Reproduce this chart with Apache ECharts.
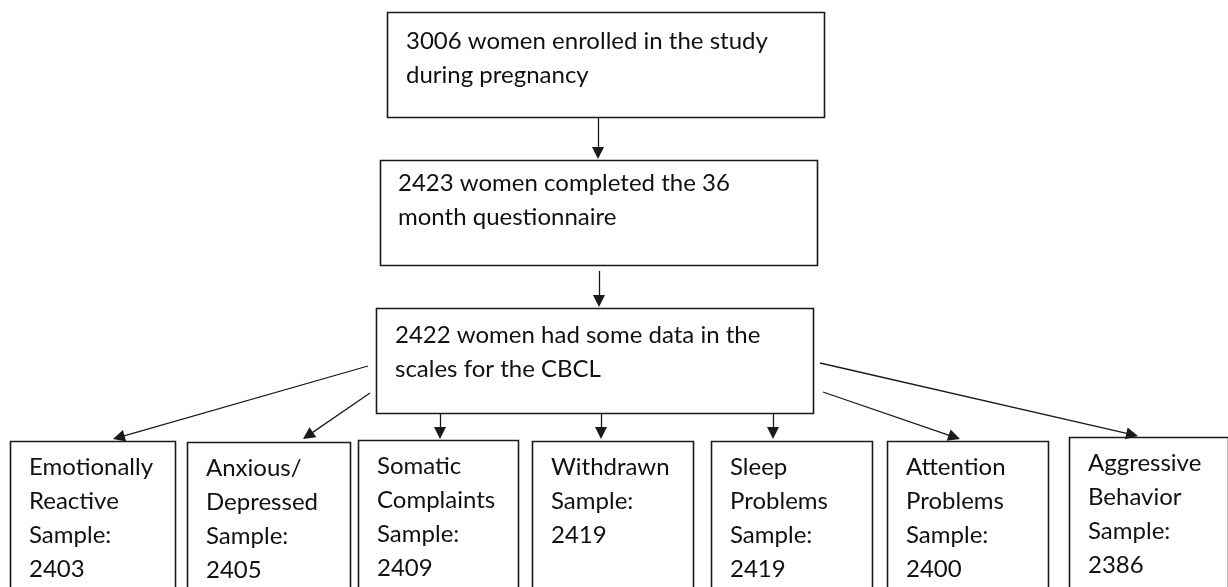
<!DOCTYPE html>
<html>
<head>
<meta charset="utf-8">
<script src="https://cdn.jsdelivr.net/npm/echarts@6/dist/echarts.min.js"></script>
<style>
  html, body { margin: 0; padding: 0; background: #fff; }
  #chart { width: 1228px; height: 587px; }
</style>
</head>
<body>
<div id="chart"></div>
<script>
// flow stages (top to bottom)
const stageLines = [
  ["3006 women enrolled in the study", "during pregnancy"],
  ["2423 women completed the 36", "month questionnaire"],
  ["2422 women had some data in the", "scales for the CBCL"]
];
// CBCL scales and their sample sizes
const scaleNames = [
  ["Emotionally", "Reactive"],
  ["Anxious/", "Depressed"],
  ["Somatic", "Complaints"],
  ["Withdrawn"],
  ["Sleep", "Problems"],
  ["Attention", "Problems"],
  ["Aggressive", "Behavior"]
];
const sampleSizes = [2403, 2405, 2409, 2419, 2419, 2400, 2386];

// layout (pixel space of the page)
const stageBoxes = [[387, 12, 824, 117], [380, 160, 817, 265], [376, 308, 813, 413]];
const stageTextPos = [[406, 24], [398, 166], [395, 318]];
const scaleBoxX = [[10, 175], [187, 350], [358, 518], [532, 693], [711, 872], [887, 1048], [1069, 1228]];
const scaleBoxTop = [441, 442, 440, 441, 441, 441, 437];
const scaleArrows = [
  [[368, 366], [113, 439]],
  [[370, 393], [303, 439]],
  [[440, 413], [440, 439]],
  [[601, 413], [601, 439]],
  [[773, 413], [773, 439]],
  [[823, 392], [960, 439]],
  [[820, 363], [1138, 436]]
];
const stageArrows = [
  [[598, 117], [598, 159]],
  [[599, 271], [599, 307]]
];

const FONT = "Lato, 'Open Sans', sans-serif";
const LINE_H = 34;

const boxes = [];
stageBoxes.forEach((b, i) => {
  boxes.push({ rect: b, lines: stageLines[i], text: stageTextPos[i], lh: 34 });
});
scaleNames.forEach((n, i) => {
  const [x0, x1] = scaleBoxX[i];
  boxes.push({
    rect: [x0, scaleBoxTop[i], x1, 640],
    lines: n.concat(["Sample:", String(sampleSizes[i])]),
    text: [x0 + 19, scaleBoxTop[i] + 9],
    lh: LINE_H
  });
});

// shorten end so arrow tip lands on the target
const ARROW = 12;
function arrowData(list) {
  return list.map(([a, b]) => {
    const dx = b[0] - a[0], dy = b[1] - a[1];
    const len = Math.sqrt(dx * dx + dy * dy);
    const k = (len - ARROW / 2) / len;
    return { coords: [a, [a[0] + dx * k, a[1] + dy * k]] };
  });
}

const chart = echarts.init(document.getElementById("chart"));
chart.setOption({
  animation: false,
  grid: { left: 0, right: 0, top: 0, bottom: 0 },
  xAxis: { type: "value", min: 0, max: 1228, show: false },
  yAxis: { type: "value", min: 0, max: 587, inverse: true, show: false },
  series: [
    {
      type: "custom",
      coordinateSystem: "cartesian2d",
      data: boxes.map((b, i) => [i]),
      clip: false,
      renderItem: function (params, api) {
        const b = boxes[params.dataIndex];
        const p0 = api.coord([b.rect[0], b.rect[1]]);
        const p1 = api.coord([b.rect[2], b.rect[3]]);
        const t = api.coord(b.text);
        return {
          type: "group",
          children: [
            {
              type: "rect",
              shape: { x: p0[0] + 0.5, y: p0[1] + 0.5, width: p1[0] - p0[0], height: p1[1] - p0[1] },
              style: { fill: "#fff", stroke: "#1a1a1a", lineWidth: 1.6 }
            },
            {
              type: "text",
              x: t[0],
              y: t[1],
              style: {
                text: b.lines.join("\n"),
                font: "24px " + FONT,
                lineHeight: b.lh,
                fill: "#111",
                align: "left",
                verticalAlign: "top"
              }
            }
          ]
        };
      }
    },
    {
      type: "lines",
      coordinateSystem: "cartesian2d",
      symbol: ["none", "triangle"],
      symbolSize: [12, ARROW],
      lineStyle: { color: "#1a1a1a", width: 1.3, opacity: 1 },
      data: arrowData(stageArrows.concat(scaleArrows))
    }
  ]
});
</script>
</body>
</html>
